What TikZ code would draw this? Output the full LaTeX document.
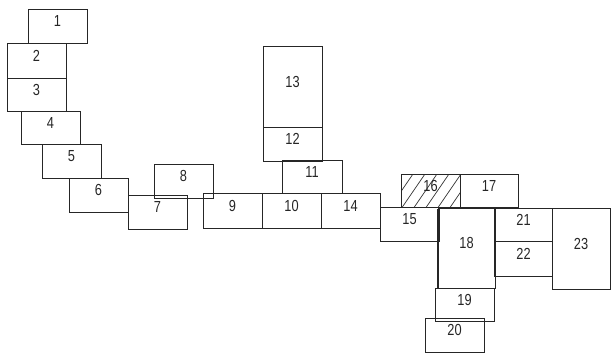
\documentclass[tikz,border=0pt]{standalone}
\usepackage{fontspec}
\setmainfont[FakeStretch=0.8]{Liberation Sans}
\usetikzlibrary{fit}
\tikzset{
  box/.style={draw=black!85, line width=1pt, inner sep=0pt, outer sep=0pt,
    font=\fontsize{16}{16}\selectfont, text=black!85},
  hatchline/.style={draw=black!80, line width=0.7pt},
  heavyedge/.style={draw=black!85, line width=1.8pt}
}
\newcommand{\bx}[6]{\node[box, fit={(#2,#3)(#4,#5)}] (#1) {#6};}
\begin{document}
\begin{tikzpicture}[x=1pt,y=-1pt]
\useasboundingbox (0,0) rectangle (614,355);
\bx{b1}{28}{10}{87}{44}{1}
\bx{b2}{7}{44}{66}{79}{2}
\bx{b3}{7}{79}{66}{112}{3}
\bx{b4}{21}{112}{80}{145}{4}
\bx{b5}{42}{145}{101}{179}{5}
\bx{b6}{69}{179}{128}{213}{6}
\bx{b7}{128}{196}{187}{230}{7}
\bx{b8}{154}{165}{213}{199}{8}
\bx{b9}{203}{194}{262}{229}{9}
\bx{b10}{262}{194}{321}{229}{10}
\bx{b11}{282}{161}{342}{194}{11}
\bx{b12}{263}{128}{322}{162}{12}
\bx{b13}{263}{47}{322}{128}{13}
\bx{b14}{321}{194}{380}{229}{14}
\bx{b15}{380}{208}{439}{242}{15}
\begin{scope}
  \clip (401,175) rectangle (460,208);
  \foreach \i in {0,...,7} {
    \draw[hatchline] (389+12*\i,209) -- (413+12*\i,174);
  }
\end{scope}
\bx{b16}{401}{175}{460}{208}{16}
\bx{b17}{460}{175}{518}{208}{17}
\bx{b18}{438}{209}{495}{289}{18}
\bx{b19}{435}{289}{494}{322}{19}
\bx{b20}{425}{319}{484}{353}{20}
\bx{b21}{495}{209}{552}{242}{21}
\bx{b22}{495}{242}{552}{277}{22}
\bx{b23}{552}{209}{610}{290}{23}
\draw[heavyedge] (b18.north west) -- (b18.south west);
\draw[heavyedge] (b21.north west) -- (b22.south west);
\end{tikzpicture}
\end{document}
